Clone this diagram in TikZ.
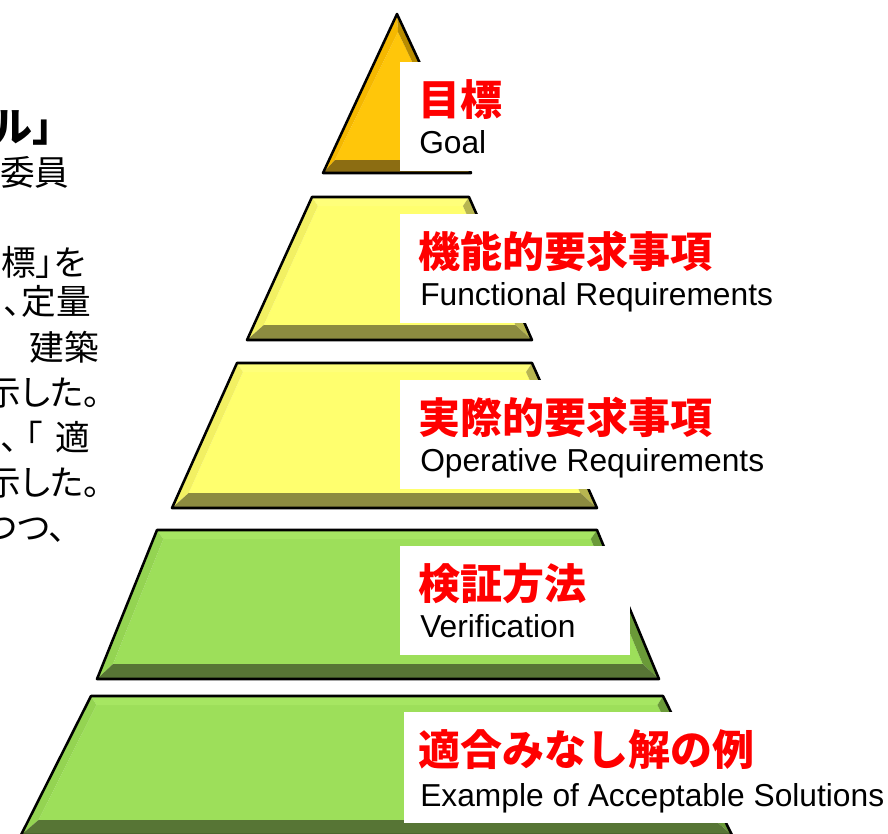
\documentclass[tikz,border=0pt]{standalone}
\usepackage{fontspec}
\setmainfont{Liberation Sans}
\newfontfamily\jp{Noto Sans CJK JP}
\newfontfamily\jpp{Noto Sans CJK JP}[RawFeature=+palt]
\usetikzlibrary{calc}
\definecolor{goldface}{HTML}{FFC60A}
\definecolor{goldleft}{HTML}{F5B800}
\definecolor{goldright}{HTML}{B88C00}
\definecolor{goldbot}{HTML}{8C6D12}
\definecolor{yelface}{HTML}{FFFF6E}
\definecolor{yeltop}{HTML}{FFFF7A}
\definecolor{yelleft}{HTML}{F2F063}
\definecolor{yelright}{HTML}{B8B650}
\definecolor{yelbot}{HTML}{8C8B40}
\definecolor{grnface}{HTML}{9DDF5A}
\definecolor{grntop}{HTML}{A6E662}
\definecolor{grnleft}{HTML}{94D452}
\definecolor{grnright}{HTML}{6A9A38}
\definecolor{grnbot}{HTML}{577535}
\tikzset{
  outline/.style={draw=black, line width=1.9pt, line join=round},
  titletext/.style={anchor=base west, inner sep=0pt, text=red,
    font=\jp\bfseries\fontsize{31.5pt}{32pt}\selectfont},
  subtext/.style={anchor=base west, inner sep=0pt, text=black,
    font=\fontsize{23.8pt}{24pt}\selectfont},
  sidetext/.style={anchor=base east, inner sep=0pt, text=black,
    font=\jpp\fontsize{26pt}{26pt}\selectfont},
}
\newcommand\pyrlayer[7]{%
  \pgfmathsetmacro\pyrft{9/(#6-#5)}%
  \pgfmathsetmacro\pyrfb{1-15/(#6-#5)}%
  \coordinate (TL) at (#1,#5); \coordinate (TR) at (#2,#5);
  \coordinate (BL) at (#3,#6); \coordinate (BR) at (#4,#6);
  \coordinate (iTL) at ($(TL)!\pyrft!(BL)+(10,0)$);
  \coordinate (iTR) at ($(TR)!\pyrft!(BR)+(-10,0)$);
  \coordinate (iBL) at ($(TL)!\pyrfb!(BL)+(10,0)$);
  \coordinate (iBR) at ($(TR)!\pyrfb!(BR)+(-10,0)$);
  \fill[#7face] (iTL)--(iTR)--(iBR)--(iBL)--cycle;
  \fill[#7top] (TL)--(TR)--(iTR)--(iTL)--cycle;
  \fill[#7left] (TL)--(iTL)--(iBL)--(BL)--cycle;
  \fill[#7right] (TR)--(BR)--(iBR)--(iTR)--cycle;
  \fill[#7bot] (BL)--(iBL)--(iBR)--(BR)--cycle;
  \draw[outline] (TL)--(TR)--(BR)--(BL)--cycle;
}
\begin{document}
\begin{tikzpicture}[x=0.75pt,y=-0.75pt]
\useasboundingbox (0,0) rectangle (888,833);
\clip (0,0) rectangle (888,833);
\fill[white] (0,0) rectangle (888,833);

% Goal triangle
\coordinate (A) at (397,14);
\coordinate (gBL) at (323,173);
\coordinate (gBR) at (471,173);
\coordinate (iA) at (398,32);
\coordinate (igBL) at (335,160);
\coordinate (igBR) at (459,160);
\fill[goldface] (iA)--(igBR)--(igBL)--cycle;
\fill[goldleft] (A)--(iA)--(igBL)--(gBL)--cycle;
\fill[goldright] (A)--(gBR)--(igBR)--(iA)--cycle;
\fill[goldbot] (gBL)--(igBL)--(igBR)--(gBR)--cycle;
\draw[outline] (A)--(gBR)--(gBL)--cycle;

\pyrlayer{312}{469}{247}{532}{197}{340}{yel}
\pyrlayer{237}{532}{172}{597}{363}{508}{yel}
\pyrlayer{157}{597}{97}{659}{530}{679}{grn}
\pyrlayer{91}{663}{21}{732}{696}{835}{grn}

% label boxes
\fill[white] (400,62) rectangle (520,171);
\fill[white] (400,214) rectangle (800,323);
\fill[white] (400,380) rectangle (790,489);
\fill[white] (400,546) rectangle (630,655);
\fill[white] (404,712) rectangle (890,823);

\node[titletext] (t1) at (418,115) {目標};
\node[subtext] (e1) at (419,153) {Goal};
\node[titletext] (t2) at (418,267) {機能的要求事項};
\node[subtext] (e2) at (420,305) {Functional Requirements};
\node[titletext] (t3) at (418,433) {実際的要求事項};
\node[subtext] (e3) at (420,471) {Operative Requirements};
\node[titletext] (t4) at (418,599) {検証方法};
\node[subtext] (e4) at (420,637) {Verification};
\node[titletext] (t5) at (418,765) {適合みなし解の例};
\node[subtext] (e5) at (420,806) {Example of Acceptable Solutions};

% cut-off side text
\node[sidetext, anchor=base west, font=\jp\bfseries\fontsize{30pt}{30pt}\selectfont] (s0) at (-8,141) {ル」};
\node[sidetext, anchor=base west] (s1) at (0,185) {委員};
\node[sidetext] (s2) at (86,275) {標」を};
\node[sidetext] (s3) at (91,314) {、定量};
\node[sidetext] (s4) at (99,360) {建築};
\node[sidetext] (s5) at (101,405) {示した。};
\node[sidetext] (s6) at (90,450) {、\kern5.5pt「\kern9.5pt適};
\node[sidetext] (s7) at (101,495) {示した。};
\node[sidetext] (s8) at (66,540) {つつ、};
\end{tikzpicture}
\end{document}
